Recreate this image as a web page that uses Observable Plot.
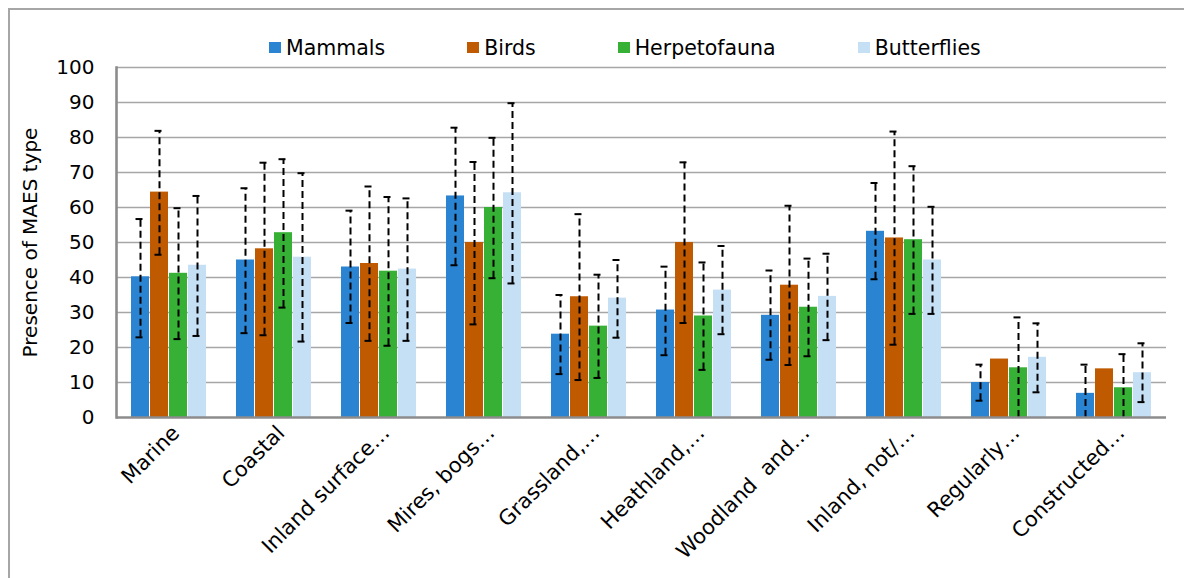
<!DOCTYPE html>
<html>
<head>
<meta charset="utf-8">
<script src="https://cdn.jsdelivr.net/npm/d3@7"></script>
<script src="https://cdn.jsdelivr.net/npm/@observablehq/plot@0.6"></script>
<style>
  html, body { margin: 0; padding: 0; background: #fff; overflow: hidden; }
  #wrap { position: absolute; left: 8px; top: 8px; width: 1300px; height: 700px;
          border-left: 2px solid #a6a6a6; border-top: 2px solid #a6a6a6; background: #fff; }
  #legend { height: 49px; box-sizing: border-box; padding-top: 26px; padding-left: 259px;
            display: flex; align-items: center; font-family: "DejaVu Sans", sans-serif; font-size: 20.5px; line-height: 24px; }
  .item { display: flex; align-items: center; margin-right: 82px; }
  .sw { width: 12px; height: 11px; margin-right: 5px; }
  svg { overflow: visible; }
  svg text { white-space: pre; }
</style>
</head>
<body>
<div id="wrap">
  <div id="legend"></div>
  <div id="chart"></div>
</div>
<script>
const categories = ["Marine", "Coastal", "Inland surface…", "Mires, bogs…", "Grassland,…",
  "Heathland,…", "Woodland  and…", "Inland, not/…", "Regularly…", "Constructed…"];
const series = ["Mammals", "Birds", "Herpetofauna", "Butterflies"];
const colors = ["#2a84d2", "#c05a00", "#36b035", "#c5dff4"];
const yTicks = [0, 10, 20, 30, 40, 50, 60, 70, 80, 90, 100];

const mammals     = [40.2, 45.0, 43.0, 63.3, 23.8, 30.7, 29.2, 53.2, 10.0, 6.9];
const birds       = [64.4, 48.2, 44.0, 50.0, 34.5, 50.0, 37.8, 51.3, 16.7, 13.9];
const herps       = [41.2, 52.8, 41.8, 60.0, 26.1, 29.0, 31.5, 50.8, 14.2, 8.5];
const butterflies = [43.5, 45.8, 42.4, 64.2, 34.1, 36.4, 34.6, 45.0, 17.2, 12.8];

const mammalsHi     = [56.7, 65.5, 59.1, 82.8, 35.0, 43.1, 42.0, 67.0, 15.1, 15.1];
const mammalsLo     = [22.9, 24.1, 27.0, 43.5, 12.4, 17.8, 16.5, 39.5, 4.8, 0];
const birdsHi       = [81.9, 72.8, 66.0, 73.0, 58.1, 72.9, 60.5, 81.7, null, null];
const birdsLo       = [46.5, 23.5, 21.9, 26.6, 10.7, 27.0, 15.0, 20.8, null, null];
const herpsHi       = [59.8, 73.8, 63.0, 79.9, 40.8, 44.3, 45.4, 71.8, 28.6, 18.1];
const herpsLo       = [22.4, 31.4, 20.5, 39.8, 11.3, 13.6, 17.5, 29.6, 0, 0];
const butterfliesHi = [63.3, 69.8, 62.6, 89.8, 45.0, 49.0, 46.8, 60.2, 26.9, 21.2];
const butterfliesLo = [23.3, 21.7, 21.9, 38.3, 22.8, 23.8, 22.1, 29.6, 7.2, 4.4];

const values = [mammals, birds, herps, butterflies];
const his = [mammalsHi, birdsHi, herpsHi, butterfliesHi];
const los = [mammalsLo, birdsLo, herpsLo, butterfliesLo];

const rows = [];
categories.forEach((c, i) => {
  series.forEach((s, j) => {
    rows.push({cat: c, series: s, value: values[j][i], hi: his[j][i], lo: los[j][i]});
  });
});
const errRows = rows.filter(d => d.hi != null);

// legend
const legend = document.getElementById("legend");
series.forEach((s, j) => {
  const it = document.createElement("div");
  it.className = "item";
  const sw = document.createElement("div");
  sw.className = "sw";
  sw.style.background = colors[j];
  const t = document.createElement("span");
  t.textContent = s;
  it.appendChild(sw); it.appendChild(t);
  legend.appendChild(it);
});

const dash = "7,4";
const chart = Plot.plot({
  width: 1174,
  height: 519,
  marginLeft: 104,
  marginRight: 16,
  marginTop: 8,
  marginBottom: 161,
  style: {fontFamily: "DejaVu Sans, sans-serif", fontSize: "19px", color: "#000", background: "transparent"},
  fx: {domain: categories, padding: 0, label: null, axis: null},
  x: {domain: series, paddingInner: 0.05, paddingOuter: 0.728, axis: null},
  y: {domain: [0, 100], axis: null},
  color: {domain: series, range: colors},
  marks: [
    Plot.ruleY(yTicks.filter(v => v > 0), {stroke: "#a6a6a6", strokeWidth: 1.6}),
    Plot.barY(rows, {fx: "cat", x: "series", y: "value", fill: "series"}),
    Plot.ruleX(errRows, {fx: "cat", x: "series", y1: "lo", y2: "hi", stroke: "#000", strokeWidth: 2, strokeDasharray: dash}),
    Plot.tickY(errRows, {fx: "cat", x: "series", y: "hi", stroke: "#000", strokeWidth: 2, strokeDasharray: dash, insetLeft: 4.5, insetRight: 4.5}),
    Plot.tickY(errRows.filter(d => d.lo > 0), {fx: "cat", x: "series", y: "lo", stroke: "#000", strokeWidth: 2, strokeDasharray: dash, insetLeft: 4.5, insetRight: 4.5}),
    Plot.ruleY([0], {stroke: "#8c8c8c", strokeWidth: 2.6}),
    Plot.frame({anchor: "left", facetAnchor: "left", stroke: "#8c8c8c", strokeWidth: 2.6}),
    Plot.axisFx({anchor: "bottom", label: null, tickRotate: -45, tickSize: 0, tickPadding: 9, fontSize: 21, dx: 7, dy: 3}),
    Plot.axisY({anchor: "left", ticks: yTicks, tickSize: 0, tickPadding: 22, fontSize: 20,
      label: "Presence of MAES type", labelAnchor: "center", labelOffset: 94, labelArrow: "none"})
  ]
});
document.getElementById("chart").appendChild(chart);
</script>
</body>
</html>
